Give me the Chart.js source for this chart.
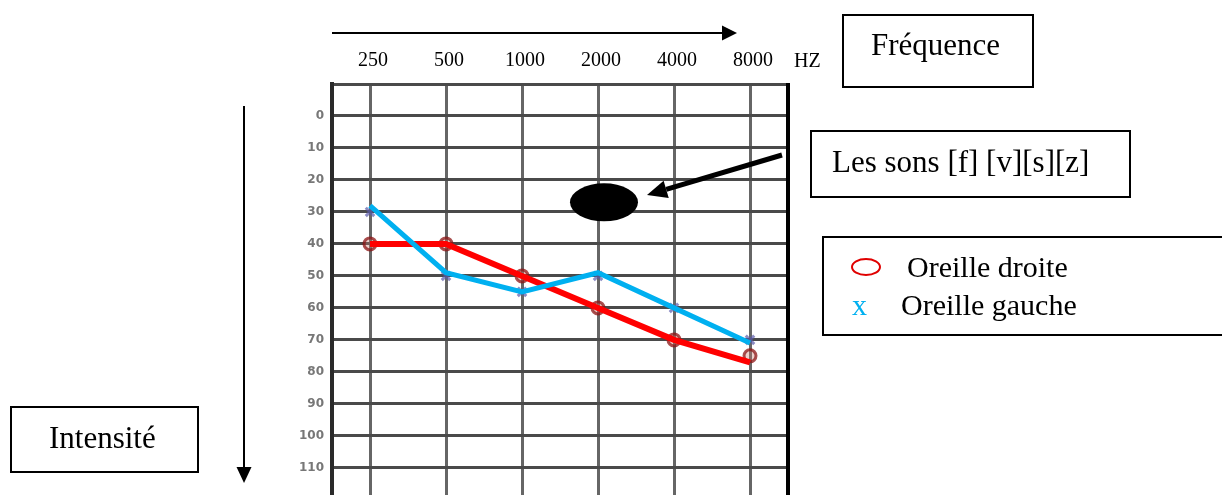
<!DOCTYPE html>
<html>
<head>
<meta charset="utf-8">
<script src="https://cdn.jsdelivr.net/npm/chart.js@4.4.0/dist/chart.umd.min.js"></script>
<style>
  html, body { margin: 0; padding: 0; background: #fff; }
  #wrap { width: 1222px; height: 495px; position: relative; }
</style>
</head>
<body>
<div id="wrap"><canvas id="audio"></canvas></div>
<script>
// frequencies (top axis) and hearing levels in dB
const frequencies = ['250', '500', '1000', '2000', '4000', '8000'];
const dbTicks = [0, 10, 20, 30, 40, 50, 60, 70, 80, 90, 100, 110];

// hand drawn lines
const rightEarLine = [40, 40, 50, 60, 70, 77];
const leftEarLine = [28, 49, 55, 49, 60, 71];
// faint printed marks under the lines
const rightEarMarks = [40, 40, 50, 60, 70, 75];
const leftEarMarks = [30, 50, 55, 50, 60, 70];

const serif = '"Liberation Serif", "Times New Roman", serif';

function arrow(ctx, x1, y1, x2, y2, lw, headLen, headW) {
  const a = Math.atan2(y2 - y1, x2 - x1);
  const bx = x2 - headLen * Math.cos(a), by = y2 - headLen * Math.sin(a);
  ctx.strokeStyle = '#000';
  ctx.lineWidth = lw;
  ctx.beginPath();
  ctx.moveTo(x1, y1);
  ctx.lineTo(bx, by);
  ctx.stroke();
  ctx.fillStyle = '#000';
  ctx.beginPath();
  ctx.moveTo(x2, y2);
  ctx.lineTo(bx + headW / 2 * Math.sin(a), by - headW / 2 * Math.cos(a));
  ctx.lineTo(bx - headW / 2 * Math.sin(a), by + headW / 2 * Math.cos(a));
  ctx.closePath();
  ctx.fill();
}

function box(ctx, x, y, w, h) {
  ctx.strokeStyle = '#000';
  ctx.lineWidth = 2;
  ctx.strokeRect(x, y, w, h);
}

const annotations = {
  id: 'annotations',
  afterDraw(chart) {
    const ctx = chart.ctx;
    const area = chart.chartArea;
    const xs = chart.scales.x, ys = chart.scales.y;
    ctx.save();

    // right frame
    ctx.strokeStyle = '#000';
    ctx.lineWidth = 4;
    ctx.beginPath();
    ctx.moveTo(area.right, area.top - 1);
    ctx.lineTo(area.right, area.bottom);
    ctx.stroke();

    // HZ after last frequency
    ctx.fillStyle = '#000';
    ctx.font = '20px ' + serif;
    ctx.textBaseline = 'alphabetic';
    ctx.textAlign = 'left';
    ctx.fillText('HZ', xs.getPixelForValue(5) + 44, 67);

    // arrows
    arrow(ctx, 332, 33, 737, 33, 2, 15, 15);
    arrow(ctx, 244, 106, 244, 483, 2, 16, 15);
    arrow(ctx, 782, 155, 647, 195, 5, 20, 18);

    // black blob (fricatives zone)
    ctx.fillStyle = '#000';
    ctx.beginPath();
    ctx.ellipse(xs.getPixelForValue(3) + 6, ys.getPixelForValue(27), 34, 19, 0, 0, Math.PI * 2);
    ctx.fill();

    // text boxes
    ctx.font = '31px ' + serif;
    ctx.fillStyle = '#000';
    box(ctx, 843, 15, 190, 72);
    ctx.fillText('Fréquence', 871, 55);
    box(ctx, 811, 131, 319, 66);
    ctx.fillText('Les sons [f] [v][s][z]', 832, 172);
    box(ctx, 11, 407, 187, 65);
    ctx.fillText('Intensité', 49, 448);

    // legend
    box(ctx, 823, 237, 420, 98);
    ctx.strokeStyle = '#e00000';
    ctx.lineWidth = 2;
    ctx.beginPath();
    ctx.ellipse(866, 267, 14, 8, 0, 0, Math.PI * 2);
    ctx.stroke();
    ctx.font = '30px ' + serif;
    ctx.fillStyle = '#000';
    ctx.fillText('Oreille droite', 907, 277);
    ctx.fillText('Oreille gauche', 901, 315);
    ctx.fillStyle = '#00b0f0';
    ctx.fillText('x', 852, 315);

    ctx.restore();
  }
};

new Chart(document.getElementById('audio'), {
  type: 'line',
  data: {
    labels: frequencies,
    datasets: [
      {
        label: 'Oreille droite',
        data: rightEarLine,
        borderColor: '#ff0000',
        borderWidth: 6,
        pointRadius: 0,
        tension: 0,
        order: 1
      },
      {
        label: 'Oreille gauche',
        data: leftEarLine,
        borderColor: '#00b0f0',
        borderWidth: 5,
        pointRadius: 0,
        tension: 0,
        order: 0
      },
      {
        label: 'marks droite',
        data: rightEarMarks,
        showLine: false,
        pointStyle: 'circle',
        pointRadius: 6,
        pointBorderWidth: 3,
        pointBorderColor: 'rgba(140, 20, 20, 0.75)',
        pointBackgroundColor: 'rgba(200, 120, 110, 0.35)',
        order: 3
      },
      {
        label: 'marks gauche',
        data: leftEarMarks,
        showLine: false,
        pointStyle: 'crossRot',
        pointRadius: 6,
        pointBorderWidth: 3,
        pointBorderColor: 'rgba(90, 90, 170, 0.7)',
        order: 2
      }
    ]
  },
  options: {
    responsive: true,
    maintainAspectRatio: false,
    animation: false,
    layout: { autoPadding: false, padding: { left: 0, right: 434, top: 0, bottom: 0 } },
    plugins: {
      legend: { display: false },
      tooltip: { enabled: false }
    },
    scales: {
      x: {
        position: 'top',
        offset: true,
        afterFit: s => { s.height = 84; s.paddingLeft = 0; s.paddingRight = 0; },
        grid: { color: '#666', lineWidth: 3, drawTicks: false },
        border: { display: false },
        ticks: {
          color: '#000',
          font: { family: serif, size: 20 },
          padding: 11,
          labelOffset: 3,
          maxRotation: 0,
          autoSkip: false
        }
      },
      y: {
        reverse: true,
        min: -10,
        max: 118.5,
        afterFit: s => { s.width = 332; s.paddingTop = 0; s.paddingBottom = 0; },
        afterBuildTicks: s => { s.ticks = [-10].concat(dbTicks).map(v => ({ value: v })); },
        grid: { color: '#4a4a4a', lineWidth: 3, drawTicks: false },
        border: { display: true, color: '#2a2a2a', width: 4 },
        ticks: {
          color: '#777',
          font: { family: 'DejaVu Sans', size: 12, weight: 'bold' },
          padding: 8,
          callback: v => (v < 0 ? '' : v)
        }
      }
    }
  },
  plugins: [annotations]
});
</script>
</body>
</html>
